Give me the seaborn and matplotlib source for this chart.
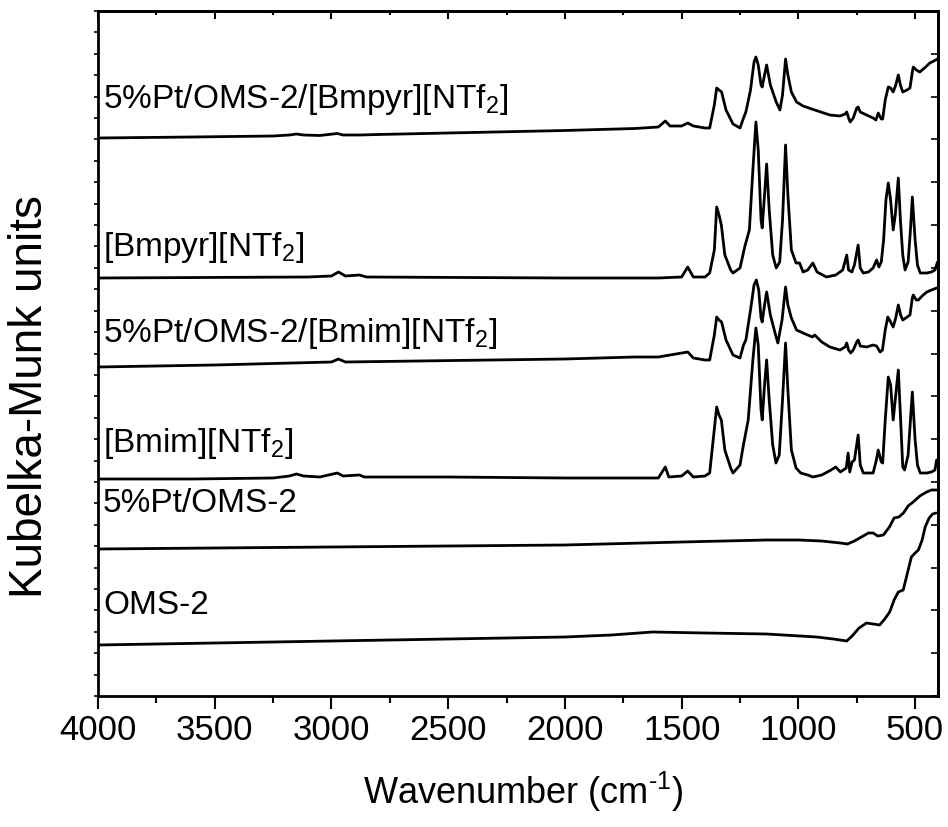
import numpy as np
import matplotlib
matplotlib.use('Agg')
import matplotlib.pyplot as plt
from matplotlib.ticker import MultipleLocator, FixedLocator
import seaborn as sns

# spectra (wavenumber in cm-1, Kubelka-Munk in arbitrary stacked units)
wn_pt_bmpyr = [4000, 3600, 3250, 3180, 3150, 3120, 3050, 2975, 2950, 2880, 2800, 2500, 2000, 1700, 1600, 1570, 1550,
               1500, 1474, 1450, 1400, 1380, 1360, 1350, 1340, 1329, 1310, 1280, 1250, 1235, 1225, 1205, 1190, 1182,
               1172, 1160, 1155, 1145, 1136, 1120, 1095, 1079, 1068, 1055, 1045, 1030, 1008, 980, 930, 865, 822, 800,
               793, 785, 778, 765, 750, 744, 735, 708, 680, 668, 658, 645, 639, 628, 615, 605, 594, 583, 572, 563, 553,
               535, 522, 512, 508, 495, 480, 460, 437, 420, 404]
km_pt_bmpyr = [585, 586, 587, 588, 589, 588, 587.5, 589.5, 588, 588, 588.5, 590, 592.5, 594.5, 596, 602, 597,
               597, 600, 597, 595, 595, 618, 635, 633, 631, 613, 599, 595, 605, 611, 633, 661, 666,
               658, 638, 636, 648, 658, 638, 621, 613, 628, 664, 648, 631, 621, 617, 613, 608, 607, 609,
               611, 605, 601, 605, 615, 616, 611, 608, 605, 603, 610, 604, 604, 623, 636, 635, 631, 638, 648, 638, 631,
               633, 635, 651, 656, 653, 651, 655, 660, 662, 664]

wn_bmpyr = [4000, 3100, 3000, 2970, 2940, 2880, 2850, 2000, 1600, 1500, 1474, 1450, 1400, 1380, 1360, 1350, 1340,
            1330, 1315, 1290, 1280, 1250, 1230, 1210, 1195, 1182, 1172, 1160, 1155, 1145, 1136, 1125, 1110, 1095,
            1080, 1068, 1055, 1045, 1030, 1010, 995, 980, 960, 938, 920, 880, 840, 810, 793, 785, 771, 760, 744, 735,
            722, 700, 680, 665, 655, 645, 635, 625, 615, 605, 594, 585, 572, 563, 553, 543, 530, 520, 512, 500, 490,
            478, 450, 430, 415, 404]
km_bmpyr = [445, 446, 447, 451, 447, 448, 446, 445, 445, 446, 456, 446, 446, 450, 473, 516, 508,
            498, 468, 453, 450, 455, 476, 493, 553, 601, 573, 503, 495, 528, 559, 513, 468, 455,
            461, 503, 578, 528, 473, 460, 460, 451, 453, 460, 451, 446, 448, 453, 468, 453, 451, 458, 478, 455,
            450, 451, 455, 463, 456, 461, 483, 523, 540, 523, 493, 508, 545, 503, 468, 453, 461, 493, 526, 483, 458,
            450, 450, 451, 453, 461]

wn_pt_bmim = [4000, 3500, 3000, 2970, 2940, 2000, 1850, 1700, 1600, 1474, 1450, 1400, 1380, 1360, 1350, 1340, 1329,
              1310, 1280, 1250, 1235, 1225, 1205, 1190, 1180, 1170, 1160, 1155, 1145, 1136, 1120, 1100, 1088, 1070,
              1055, 1045, 1030, 1008, 980, 940, 930, 900, 865, 822, 800, 793, 785, 776, 765, 750, 744, 735, 708, 680,
              665, 650, 640, 628, 617, 605, 594, 583, 572, 562, 553, 540, 522, 512, 508, 495, 486, 470, 450, 430, 408]
km_pt_bmim = [356, 358, 361, 364, 361, 364, 365, 366, 366, 371, 365, 363, 363, 388, 406, 403, 401,
              383, 368, 365, 378, 383, 413, 438, 443, 433, 405, 401, 418, 431, 408, 390, 380, 403,
              436, 418, 405, 393, 390, 386, 388, 381, 376, 373, 376, 380, 373, 370, 373, 381, 383, 377, 376, 378,
              377, 371, 373, 393, 406, 401, 396, 405, 418, 408, 403, 405, 408, 425, 428, 423, 423, 427, 431, 433, 435]

wn_bmim = [4000, 3600, 3250, 3180, 3150, 3120, 3050, 2975, 2950, 2880, 2860, 2500, 2000, 1700, 1600, 1570, 1555,
           1500, 1474, 1450, 1400, 1380, 1365, 1350, 1340, 1330, 1315, 1290, 1280, 1250, 1237, 1215, 1195, 1182,
           1172, 1160, 1155, 1145, 1136, 1125, 1110, 1096, 1082, 1068, 1055, 1045, 1030, 1010, 990, 960, 938, 900,
           860, 840, 820, 795, 787, 780, 770, 760, 744, 735, 722, 700, 680, 666, 658, 645, 639, 628, 615, 605, 594,
           583, 572, 562, 553, 545, 530, 520, 512, 500, 490, 478, 450, 430, 415, 408]
km_bmim = [244, 244, 245, 247, 249, 247, 246, 250, 247, 248, 246, 246, 245, 245, 245, 256, 246,
           247, 252, 246, 247, 250, 283, 316, 308, 303, 273, 255, 250, 258, 276, 303, 363, 395,
           378, 313, 303, 338, 363, 323, 278, 260, 268, 323, 380, 333, 273, 255, 250, 248, 246, 248,
           253, 256, 251, 255, 270, 251, 261, 263, 288, 258, 250, 250, 250, 263, 273, 261, 260, 303, 346, 338, 303,
           328, 353, 303, 256, 253, 268, 303, 331, 283, 258, 250, 250, 251, 253, 263]

wn_pt_oms = [4000, 3000, 2000, 1500, 1136, 1000, 900, 820, 790, 760, 730, 700, 680, 660, 636, 610, 590, 570, 550,
             530, 508, 480, 451, 430, 408]
km_pt_oms = [174, 176, 178, 181, 183, 183, 182, 180, 179, 182, 186, 190, 190, 187, 188, 196, 205, 206, 210,
             217, 221, 227, 231, 233, 233]

wn_oms = [4000, 3500, 3000, 2500, 2000, 1800, 1625, 1400, 1136, 922, 850, 793, 770, 740, 708, 680, 652, 630, 609,
          590, 572, 551, 535, 516, 500, 486, 470, 457, 440, 425, 410]
km_oms = [78, 80, 82, 84, 86, 88, 91, 90, 89, 86, 84, 82, 87, 95, 100, 99, 98, 104, 111,
          123, 131, 133, 148, 166, 170, 173, 183, 196, 205, 209, 210]

names = ['5%Pt/OMS-2/[Bmpyr][NTf$_\\mathregular{2}$]', '[Bmpyr][NTf$_\\mathregular{2}$]',
         '5%Pt/OMS-2/[Bmim][NTf$_\\mathregular{2}$]', '[Bmim][NTf$_\\mathregular{2}$]',
         '5%Pt/OMS-2', 'OMS-2']
label_y = [615, 467, 381, 271, 211, 109]

sns.set_style('ticks')
plt.rcParams['font.family'] = ['Liberation Sans', 'DejaVu Sans']
plt.rcParams['mathtext.fontset'] = 'custom'
plt.rcParams['mathtext.rm'] = 'Liberation Sans'
plt.rcParams['mathtext.it'] = 'Liberation Sans:italic'
plt.rcParams['axes.linewidth'] = 2
for key in ['text.color', 'axes.labelcolor', 'xtick.color', 'ytick.color', 'axes.edgecolor']:
    plt.rcParams[key] = 'black'

fig = plt.figure(figsize=(9.48, 8.27), dpi=100)
ax = fig.add_axes([98 / 948, 1 - 696 / 827, 840 / 948, 685 / 827])

spectra = [(wn_pt_bmpyr, km_pt_bmpyr), (wn_bmpyr, km_bmpyr), (wn_pt_bmim, km_pt_bmim),
           (wn_bmim, km_bmim), (wn_pt_oms, km_pt_oms), (wn_oms, km_oms)]
for (wn, km), name, ly in zip(spectra, names, label_y):
    sns.lineplot(x=wn, y=km, ax=ax, color='black', linewidth=2, sort=False, estimator=None)
    ax.text(3978, ly, name, fontsize=24, va='baseline', ha='left')

ax.set_xlim(4000, 402)
ax.set_ylim(27, 712)
ax.xaxis.set_major_locator(MultipleLocator(500))
ax.xaxis.set_minor_locator(MultipleLocator(250))
yt = np.arange(27, 713, 685 / 16)
ax.yaxis.set_major_locator(FixedLocator(yt))
ax.yaxis.set_minor_locator(FixedLocator(yt[:-1] + 685 / 32))
ax.tick_params(axis='x', which='major', direction='out', length=9.4, width=1.5, labelsize=25, pad=3.5)
ax.tick_params(axis='x', which='minor', direction='out', length=5, width=1.5)
ax.tick_params(axis='y', which='both', direction='out', length=3, width=1.2, labelleft=False)

top = ax.secondary_xaxis('top')
top.xaxis.set_major_locator(MultipleLocator(500))
top.xaxis.set_minor_locator(MultipleLocator(250))
top.tick_params(which='major', direction='in', length=6, width=1.5, labeltop=False)
top.tick_params(which='minor', direction='in', length=3, width=1.5)
right = ax.secondary_yaxis('right')
right.yaxis.set_major_locator(FixedLocator(yt))
right.tick_params(direction='in', length=5, width=1.2, labelright=False)

ax.set_xlabel('Wavenumber (cm$^{\\text{-1}}$)', fontsize=26)
ax.xaxis.set_label_coords(0.506, -0.108)
ax.set_ylabel('Kubelka-Munk units', fontsize=33)
ax.yaxis.set_label_coords(-0.055, 0.4365)

fig.savefig('out.png', dpi=100)
